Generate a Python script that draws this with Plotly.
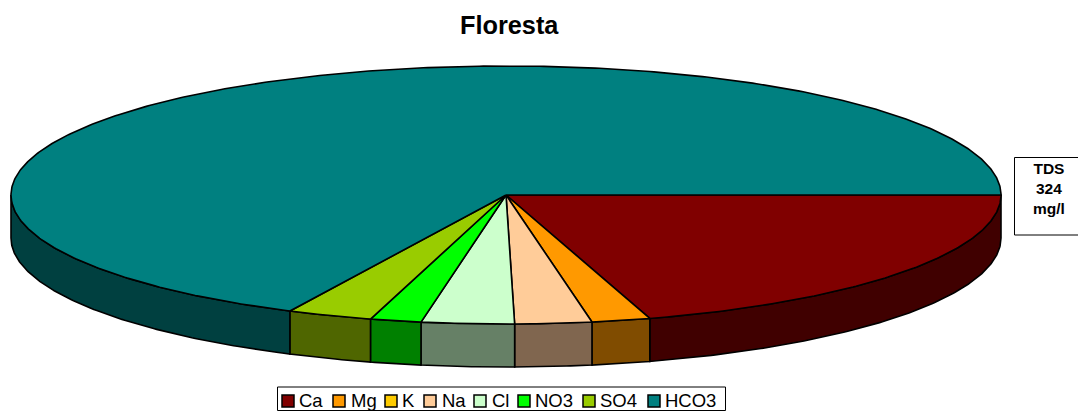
import numpy as np
import plotly.graph_objects as go

# values in mg/l (K is in the legend but has no slice)
ions = ["Ca", "Mg", "K", "Na", "Cl", "NO3", "SO4", "HCO3"]
values = [65.8, 6.2, 0.0, 8.1, 9.8, 5.4, 9.0, 219.7]
colours = ["#800000", "#FF9900", "#FFCC00", "#FFCC99", "#CCFFCC", "#00FF00", "#99CC00", "#008080"]
side_colours = ["#400000", "#804C00", "#806600", "#80664F", "#668066", "#008000", "#4F6600", "#004040"]

# pie geometry, in page pixels
CX, CY = 506, 195
RX, RY = 495, 129
DEPTH = 43

# legend layout: swatch left edge and label left edge for each ion
swatch_x = [282, 333, 385, 424, 474, 518, 583, 648]
label_x = [299, 351, 402, 442, 492, 535, 600, 665]


def arc(t0, t1):
    t = np.radians(np.arange(t0, t1, 0.5).tolist() + [t1])
    return CX + RX * np.cos(t), CY + RY * np.sin(t)


fig = go.Figure()

edges = np.concatenate([[0], np.cumsum(values)]) / sum(values) * 360

# side walls first, only the front half of the pie shows them
for i, ion in enumerate(ions):
    t0, t1 = edges[i], min(edges[i + 1], 180)
    if values[i] == 0 or t0 >= 180:
        continue
    x, y = arc(t0, t1)
    fig.add_trace(go.Scatter(
        x=np.concatenate([x, x[::-1], x[:1]]),
        y=np.concatenate([y, y[::-1] + DEPTH, y[:1]]),
        mode="lines", fill="toself", fillcolor=side_colours[i],
        line=dict(color="black", width=1.6),
        hoverinfo="skip", showlegend=False,
    ))

# top faces
for i, ion in enumerate(ions):
    if values[i] == 0:
        continue
    x, y = arc(edges[i], edges[i + 1])
    fig.add_trace(go.Scatter(
        x=np.concatenate([[CX], x, [CX]]),
        y=np.concatenate([[CY], y, [CY]]),
        mode="lines", fill="toself", fillcolor=colours[i],
        line=dict(color="black", width=1.6),
        name=ion, hoveron="fills", text=f"{ion}: {values[i]} mg/l", hoverinfo="text",
        showlegend=False,
    ))

# TDS box and legend frame, the right side of the box runs off the page
shapes = [
    dict(type="rect", x0=1014.5, x1=1090, y0=157.5, y1=235, fillcolor="white", line=dict(color="black", width=1)),
    dict(type="rect", x0=277.5, x1=725.5, y0=387, y1=410.5, fillcolor="white", line=dict(color="black", width=1)),
]
annotations = [
    dict(x=509.5, y=25, text="<b>Floresta</b>", showarrow=False, font=dict(size=25.3)),
    dict(x=1049, y=188, text="<b>TDS<br>324<br>mg/l</b>", showarrow=False, font=dict(size=15.5)),
]
for i, ion in enumerate(ions):
    shapes.append(dict(type="rect", x0=swatch_x[i], x1=swatch_x[i] + 12, y0=395, y1=407,
                       fillcolor=colours[i], line=dict(color="black", width=1.5)))
    annotations.append(dict(x=label_x[i], y=400.5, text=ion, showarrow=False, xanchor="left",
                            xshift=-2, font=dict(size=18.5)))

fig.update_layout(
    width=1078, height=411,
    margin=dict(l=0, r=0, t=0, b=0),
    paper_bgcolor="white", plot_bgcolor="white",
    font=dict(family="Liberation Sans, Arial, sans-serif", color="black"),
    xaxis=dict(range=[0, 1078], visible=False, fixedrange=True),
    yaxis=dict(range=[411, 0], visible=False, fixedrange=True),
    shapes=shapes, annotations=annotations,
    showlegend=False,
)

fig.write_html("out.html", config=dict(displayModeBar=False),
               post_script="document.body.style.margin='0';document.body.style.overflow='hidden';")
